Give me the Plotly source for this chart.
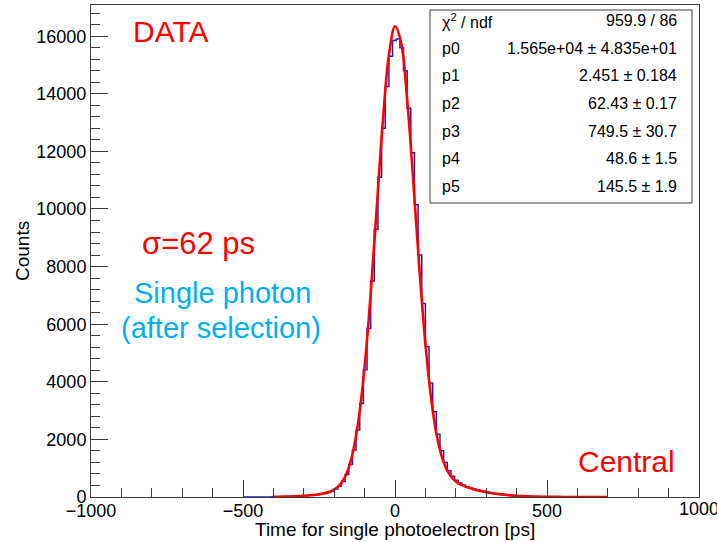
import plotly.graph_objects as go

# ---------------- data ----------------
# histogram: 100 bins of 12 ps from -500 to 700 ps
bin_lo = -500
bin_width = 12
counts = [
    0, 0, 1, 1, 2, 2, 3, 4, 5, 7,
    9, 12, 15, 19, 24, 30, 37, 46, 56, 68,
    82, 100, 125, 160, 205, 275, 380, 540, 780, 1130,
    1630, 2330, 3250, 4420, 5850, 7500, 9300, 11100, 12800, 14250,
    15300, 15850,
    15900, 15600, 14800, 13500, 11950, 10150, 8400, 6720, 5220, 3960,
    2960, 2180, 1610, 1200, 910, 720, 580, 485, 415, 360,
    315, 278, 243, 212, 185, 160, 138, 118, 100, 85,
    71, 59, 49, 40, 33, 27, 21, 17, 13, 10,
    8, 6, 5, 4, 3, 2, 2, 1, 1, 1,
    0, 0, 0, 0, 0, 0, 0, 0,
]

# fit curve
fit_t = [-400, -380, -360, -340, -320, -300, -280, -260, -240, -220,
         -200, -180, -160, -140, -120, -100, -80, -60, -40, -20,
         0, 20, 40, 60, 80, 100, 120, 140, 160, 180,
         200, 220, 240, 260, 280, 300, 320, 340, 360, 380,
         400, 420, 440, 460, 480, 500, 520, 540, 560, 580,
         600, 620, 640, 660, 680, 700]
fit_y = [6, 10, 15, 21, 30, 43, 59, 81, 113, 164,
         256, 437, 797, 1483, 2669, 4517, 7050, 10056, 13043, 15341,
         16347, 15779, 13808, 10979, 7967, 5321, 3324, 1997, 1207, 773,
         541, 411, 327, 264, 212, 169, 132, 101, 76, 56,
         41, 29, 20, 14, 9, 6, 4, 3, 2, 1,
         1, 0, 0, 0, 0, 0]

x_ticks = [-1000, -500, 0, 500, 1000]
y_ticks = [0, 2000, 4000, 6000, 8000, 10000, 12000, 14000, 16000]

stat_names = ["χ<sup>2</sup> / ndf", "p0", "p1", "p2", "p3", "p4", "p5"]
stat_values = ["959.9 / 86", "1.565e+04 ± 4.835e+01", "2.451 ± 0.184",
               "62.43 ± 0.17", "749.5 ± 30.7", "48.6 ± 1.5", "145.5 ± 1.9"]

# ---------------- figure ----------------
edges = [bin_lo + bin_width * i for i in range(len(counts) + 1)]
step_y = counts + [counts[-1]]

FONT = "Liberation Sans, Arial, Helvetica, sans-serif"

fig = go.Figure()
fig.add_trace(go.Scatter(x=edges, y=step_y, mode="lines", line_shape="hv",
                         line=dict(color="rgb(30,30,210)", width=1.5),
                         hoverinfo="skip", showlegend=False))
fig.add_trace(go.Scatter(x=fit_t, y=fit_y, mode="lines", line_shape="spline",
                         line=dict(color="rgb(255,0,0)", width=2.6),
                         hoverinfo="skip", showlegend=False))

W, H = 717, 542
L, R, T, B = 91, 18, 5, 45
pw, ph = W - L - R, H - T - B


def px(x):
    return (x - L) / pw


def py(y):
    return (H - B - y) / ph


annotations = []
# stats box text
row_y = [21, 48, 76, 103, 131, 158, 186]
for name, val, ry in zip(stat_names, stat_values, row_y):
    annotations.append(dict(x=px(440), y=py(ry), xref="paper", yref="paper",
                            text=name, showarrow=False, xanchor="left", yanchor="middle",
                            font=dict(family=FONT, size=16, color="black")))
    annotations.append(dict(x=px(679), y=py(ry), xref="paper", yref="paper",
                            text=val, showarrow=False, xanchor="right", yanchor="middle",
                            font=dict(family=FONT, size=16, color="black")))

red, blue = "rgb(255,0,0)", "rgb(0,176,240)"
annotations += [
    dict(x=px(171), y=py(31), xref="paper", yref="paper", text="DATA", showarrow=False,
         xanchor="center", yanchor="middle", font=dict(family=FONT, size=30, color=red)),
    dict(x=px(198), y=py(243), xref="paper", yref="paper", text="σ=62 ps", showarrow=False,
         xanchor="center", yanchor="middle", font=dict(family=FONT, size=31, color=red)),
    dict(x=px(222), y=py(293), xref="paper", yref="paper", text="Single photon", showarrow=False,
         xanchor="center", yanchor="middle", font=dict(family=FONT, size=29, color=blue)),
    dict(x=px(221), y=py(328), xref="paper", yref="paper", text="(after selection)", showarrow=False,
         xanchor="center", yanchor="middle", font=dict(family=FONT, size=29, color=blue)),
    dict(x=px(626), y=py(461), xref="paper", yref="paper", text="Central", showarrow=False,
         xanchor="center", yanchor="middle", font=dict(family=FONT, size=30, color=red)),
    # last x tick label, partly beyond the page edge as in the original
    dict(x=x_ticks[-1], y=py(509), xref="x", yref="paper", text=str(x_ticks[-1]),
         showarrow=False, xanchor="center", yanchor="middle",
         font=dict(family=FONT, size=18, color="black")),
    # axis titles
    dict(x=0.5, y=py(529), xref="paper", yref="paper", text="Time for single photoelectron [ps]",
         showarrow=False, xanchor="center", yanchor="middle",
         font=dict(family=FONT, size=19, color="black")),
    dict(x=px(22), y=0.5, xref="paper", yref="paper", text="Counts", textangle=-90,
         showarrow=False, xanchor="center", yanchor="middle",
         font=dict(family=FONT, size=19, color="black")),
]

shapes = [dict(type="rect", xref="paper", yref="paper",
               x0=px(430), x1=px(692), y0=py(203), y1=py(10),
               line=dict(color="rgb(60,60,60)", width=1), fillcolor="white", layer="above")]

axis_common = dict(
    showgrid=False, zeroline=False, showline=True, mirror=True,
    linecolor="rgb(60,60,60)", linewidth=1, automargin=False,
    ticks="inside", ticklen=17, tickwidth=1, tickcolor="rgb(60,60,60)",
    tickfont=dict(family=FONT, size=18, color="black"),
    tickformat="d",
)

fig.update_layout(
    width=W, height=H,
    margin=dict(l=L, r=R, t=T, b=B, autoexpand=False),
    paper_bgcolor="white", plot_bgcolor="white",
    showlegend=False,
    xaxis=dict(range=[-1000, 1000], tickvals=x_ticks, ticklabelstandoff=-3, **axis_common,
               minor=dict(dtick=100, tick0=0, ticks="inside", ticklen=9,
                          tickcolor="rgb(60,60,60)", showgrid=False)),
    yaxis=dict(range=[0, 17083], tickvals=y_ticks, **axis_common,
               minor=dict(dtick=400, tick0=0, ticks="inside", ticklen=9,
                          tickcolor="rgb(60,60,60)", showgrid=False)),
    annotations=annotations,
    shapes=shapes,
)

fig.write_html("out.html", config={"displayModeBar": False},
               post_script="document.body.style.margin='0';document.body.style.overflow='hidden';")
